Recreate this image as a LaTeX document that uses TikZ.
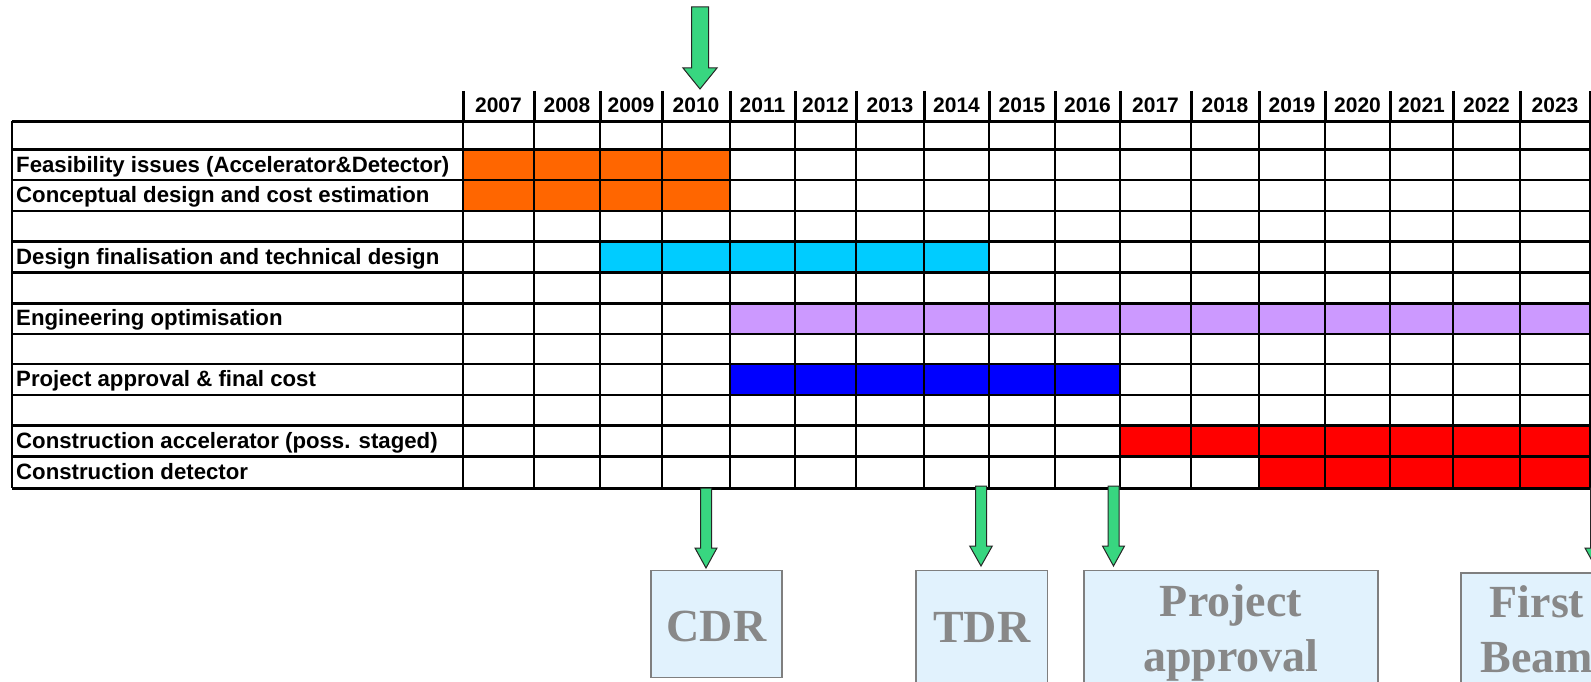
\documentclass[tikz,border=0pt]{standalone}
\usepackage{fontspec}
\setmainfont{Liberation Serif}
\setsansfont{Liberation Sans}
\usetikzlibrary{calc}
\definecolor{gorange}{HTML}{FF6600}
\definecolor{gcyan}{HTML}{00CCFF}
\definecolor{glav}{HTML}{CC99FF}
\definecolor{gblue}{HTML}{0000FF}
\definecolor{gred}{HTML}{FF0000}
\definecolor{ggreen}{HTML}{38D680}
\definecolor{boxfill}{HTML}{E1F2FD}
\definecolor{boxborder}{HTML}{7F7F7F}
\definecolor{boxtext}{HTML}{888888}
\tikzset{
  hline/.style={line width=2.5pt, black},
  vline/.style={line width=2pt, black},
  hdrline/.style={line width=3pt, black},
  yearlbl/.style={font=\sffamily\bfseries\fontsize{21}{25}\selectfont, inner sep=0pt, anchor=base},
  rowlbl/.style={font=\sffamily\bfseries\fontsize{22.2}{26}\selectfont, inner sep=0pt, anchor=base west},
  milebox/.style={draw=boxborder, line width=1.5pt, fill=boxfill, inner sep=0pt},
  miletext/.style={text=boxtext, font=\rmfamily\bfseries\fontsize{46}{55}\selectfont, align=center, inner sep=0pt},
  garrow/.style={fill=ggreen, draw=black!85, line width=1pt, line join=miter},
}
\newcommand\blockarrow[5]{%
  \draw[garrow] ($(#1)+(-#3,0)$) -- ($(#1)+(#3,0)$) -- ($(#2)+(#3,-#5)$) -- ($(#2)+(#4,-#5)$) -- (#2)
    -- ($(#2)+(-#4,-#5)$) -- ($(#2)+(-#3,-#5)$) -- cycle;}
\begin{document}
\begin{tikzpicture}[x=1pt,y=-1pt]
\clip (0,0) rectangle (1591,682);
\fill[white] (0,0) rectangle (1591,682);
\def\xs{{463,534,600,662,730,795,856,924,989,1055,1120,1191,1259,1325,1390,1453,1520,1590}}
% bars
\fill[gorange] (463,149.3) rectangle (730,211);
\fill[gcyan] (600,241.7) rectangle (989,272.7);
\fill[glav] (730,303.3) rectangle (1590,334);
\fill[gblue] (730,364) rectangle (1120,395);
\fill[gred] (1120,425.7) rectangle (1590,456.7);
\fill[gred] (1259,456.7) rectangle (1590,488.3);
% grid
\foreach \y in {121.5,149.3,180,211,241.7,272.7,303.3,334,364,395,425.7,456.7,488.3}
  \draw[hline] (12,\y) -- (1590,\y);
\draw[vline] (12,121.5) -- (12,488.3);
\foreach \x in {463,534,600,662,730,795,856,924,989,1055,1120,1191,1259,1325,1390,1453,1520,1590} {
  \draw[vline] (\x,121.5) -- (\x,488.3);
  \draw[hdrline] (\x,91) -- (\x,121.5);
}
% years
\foreach \yr [count=\i from 0] in {2007,...,2023} {
  \pgfmathsetmacro\xa{\xs[\i]}
  \pgfmathsetmacro\xb{\xs[\i+1]}
  \node[yearlbl] (y\yr) at ({(\xa+\xb)/2},112.5) {\yr};
}
% row labels
\node[rowlbl] (feas) at (16,172) {Feasibility issues (Accelerator\&Detector)};
\node[rowlbl] (concept) at (16,202.8) {Conceptual design and cost estimation};
\node[rowlbl] (design) at (16,264.5) {Design finalisation and technical design};
\node[rowlbl] (engopt) at (16,325.9) {Engineering optimisation};
\node[rowlbl] (projapp) at (16,386.8) {Project approval \& final cost};
\node[rowlbl] (conacc) at (16,448.5) {Construction accelerator (poss. staged)};
\node[rowlbl] (condet) at (16,479.8) {Construction detector};
% milestone boxes
\node[milebox, minimum width=131.3pt, minimum height=107pt] (cdr) at (716.4,623.8) {};
\node[miletext] (cdrt) at (716.6,626.4) {CDR};
\node[milebox, minimum width=131.3pt, minimum height=112pt] (tdr) at (981.7,626.7) {};
\node[miletext] (tdrt) at (981.7,627) {TDR};
\node[milebox, minimum width=293.7pt, minimum height=114pt] (proj) at (1230.9,627.7) {};
\node[miletext] (projt) at (1231,632.7) {Project\\approval};
\node[milebox, minimum width=158pt, minimum height=114pt] (first) at (1540,630) {};
\node[miletext] (firstt) at (1537,628.8) {First\hspace{0.25em}\\Beam};
% arrows
\coordinate (toptail) at (700,7);
\coordinate (toptip) at (700,89);
\blockarrow{toptail}{toptip}{8.5}{17}{21}
\coordinate (cdrtail) at (706,488);
\coordinate (cdrtip) at (706,568);
\blockarrow{cdrtail}{cdrtip}{5.5}{11}{20}
\coordinate (tdrtail) at (981,486);
\coordinate (tdrtip) at (981,566);
\blockarrow{tdrtail}{tdrtip}{5.5}{11.3}{20}
\coordinate (projtail) at (1113.5,486);
\coordinate (projtip) at (1113.5,566);
\blockarrow{projtail}{projtip}{5.5}{11}{20}
\coordinate (firsttail) at (1596,488);
\coordinate (firsttip) at (1596,568);
\blockarrow{firsttail}{firsttip}{5.5}{11}{20}
\end{tikzpicture}
\end{document}
